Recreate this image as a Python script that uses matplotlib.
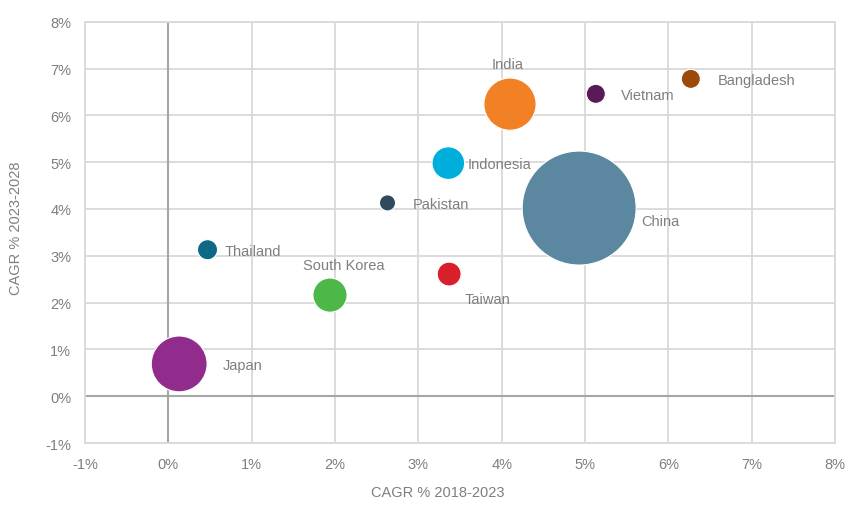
import matplotlib.pyplot as plt
from matplotlib.ticker import FuncFormatter

# Data
countries = ["Japan", "Thailand", "South Korea", "Pakistan", "Indonesia",
             "Taiwan", "India", "China", "Vietnam", "Bangladesh"]
cagr_2018_2023 = [0.13, 0.47, 1.94, 2.63, 3.36, 3.37, 4.10, 4.93, 5.13, 6.27]
cagr_2023_2028 = [0.69, 3.13, 2.16, 4.13, 4.98, 2.61, 6.24, 4.02, 6.46, 6.78]
market_size = [24.0, 3.1, 9.0, 2.0, 8.2, 4.4, 21.0, 100.0, 2.8, 2.8]

colors = ["#912C8C", "#0E6A84", "#4DB848", "#2F4A5C", "#00AEDB",
          "#D9202A", "#F28024", "#5B87A0", "#581A58", "#9C4A0A"]
# label offsets in pixels (dx, dy) and alignment
label_offsets = [(44, -1), (17, -1), (14, 30), (25, -1), (19, -1),
                 (15, -25), (-2, 40), (62, -13), (25, -1), (27, -1)]
label_align = ["left", "left", "center", "left", "left",
               "left", "center", "left", "left", "left"]

plt.rcParams['font.family'] = ['Liberation Sans', 'DejaVu Sans']
text_grey = "#7F7F7F"

fig = plt.figure(figsize=(8.64, 5.06), dpi=100)
ax = fig.add_axes([0.0984, 0.1225, 0.868, 0.8325])

scale = 67.35
sizes = [m * scale for m in market_size]
ax.scatter(cagr_2018_2023, cagr_2023_2028, s=sizes, c=colors,
           edgecolors="white", linewidths=0.8, zorder=3)

for name, x, y, off, ha in zip(countries, cagr_2018_2023, cagr_2023_2028,
                               label_offsets, label_align):
    ax.annotate(name, (x, y), xytext=off, textcoords="offset pixels",
                ha=ha, va="center", fontsize=10.5, color=text_grey, zorder=4)

ax.set_xlim(-1, 8)
ax.set_ylim(-1, 8)
ax.set_xticks(range(-1, 9))
ax.set_yticks(range(-1, 9))
pct = FuncFormatter(lambda v, p: f"{int(v)}%")
ax.xaxis.set_major_formatter(pct)
ax.yaxis.set_major_formatter(pct)

ax.grid(True, color="#D9D9D9", linewidth=1.3, zorder=0)
ax.set_axisbelow(True)
ax.axhline(0, color="#A6A6A6", linewidth=1.5, zorder=1)
ax.axvline(0, color="#A6A6A6", linewidth=1.5, zorder=1)
for sp in ax.spines.values():
    sp.set_color("#D9D9D9")
    sp.set_linewidth(1.3)

ax.tick_params(length=0, labelsize=10.5, labelcolor=text_grey, pad=10)
ax.set_xlabel("CAGR % 2018-2023", fontsize=10.5, color=text_grey, va="center")
ax.set_ylabel("CAGR % 2023-2028", fontsize=10.5, color=text_grey, va="center")
ax.xaxis.set_label_coords(0.471, -0.116)
ax.yaxis.set_label_coords(-0.092, 0.512)

fig.savefig("out.png", dpi=100)
